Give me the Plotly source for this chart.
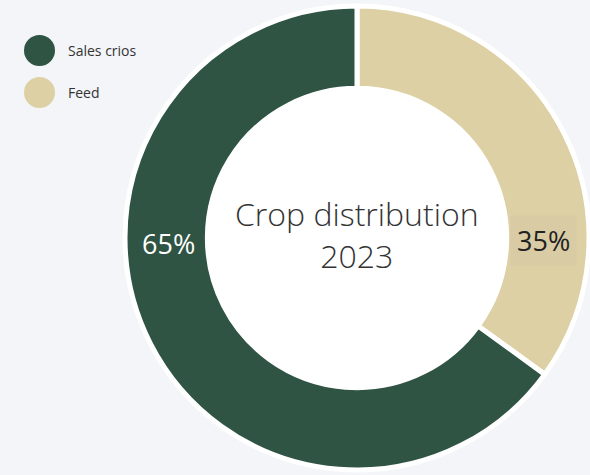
import plotly.graph_objects as go

labels = ["Sales crios", "Feed"]
values = [65, 35]
colors = ["#2f5443", "#ddd0a5"]
pct_labels = ["65%", "35%"]
center_title = "Crop distribution<br>2023"

W, H = 590, 475
cx, cy, R = 357, 238, 232

fig = go.Figure()
fig.add_trace(go.Pie(
    labels=labels[::-1],
    values=values[::-1],
    marker=dict(colors=colors[::-1], line=dict(color="white", width=5)),
    hole=0.645,
    sort=False,
    direction="clockwise",
    rotation=0,
    textinfo="none",
    hoverinfo="label+percent",
    showlegend=False,
    domain=dict(x=[(cx - R) / W, (cx + R) / W], y=[(H - cy - R) / H, (H - cy + R) / H]),
))

shapes = []
# white hole fill
hr = 0.67 * R
shapes.append(dict(type="circle", xref="paper", yref="paper", layer="below",
                   x0=(cx - hr) / W, x1=(cx + hr) / W,
                   y0=(H - cy - hr) / H, y1=(H - cy + hr) / H,
                   fillcolor="white", line=dict(width=0)))

annotations = []
# manual legend with circles
leg_y = [50.5, 92.5]
for lab, col, ly in zip(labels, colors, leg_y):
    r = 15.5
    shapes.append(dict(type="circle", xref="paper", yref="paper",
                       x0=(39.5 - r) / W, x1=(39.5 + r) / W,
                       y0=(H - ly - r) / H, y1=(H - ly + r) / H,
                       fillcolor=col, line=dict(width=0)))
    annotations.append(dict(x=66 / W, y=(H - ly) / H, xref="paper", yref="paper",
                            xanchor="left", yanchor="middle", showarrow=False,
                            text=lab, font=dict(family="Open Sans", size=14, color="#333333")))

# percentage labels
annotations.append(dict(x=168 / W, y=(H - 243) / H, xref="paper", yref="paper",
                        xanchor="center", yanchor="middle",
                        showarrow=False, text=pct_labels[0],
                        font=dict(family="Open Sans", size=27, color="white")))
annotations.append(dict(x=543 / W, y=(H - 240) / H, xref="paper", yref="paper",
                        xanchor="center", yanchor="middle",
                        showarrow=False, text=pct_labels[1], bgcolor="#d9cca4",
                        borderpad=6,
                        font=dict(family="Open Sans", size=27, color="#222222")))

# center title
annotations.append(dict(x=cx / W, y=(H - 234) / H, xref="paper", yref="paper",
                        showarrow=False, text=center_title,
                        font=dict(family="Open Sans", size=32, color="#333333", weight=300)))

fig.update_layout(
    width=W, height=H,
    margin=dict(l=0, r=0, t=0, b=0),
    paper_bgcolor="#f4f5f8",
    plot_bgcolor="#f4f5f8",
    shapes=shapes,
    annotations=annotations,
)

fig.write_html("out.html", config={"displayModeBar": False},
               post_script="document.body.style.margin='0';document.body.style.background='#f4f5f8';")
